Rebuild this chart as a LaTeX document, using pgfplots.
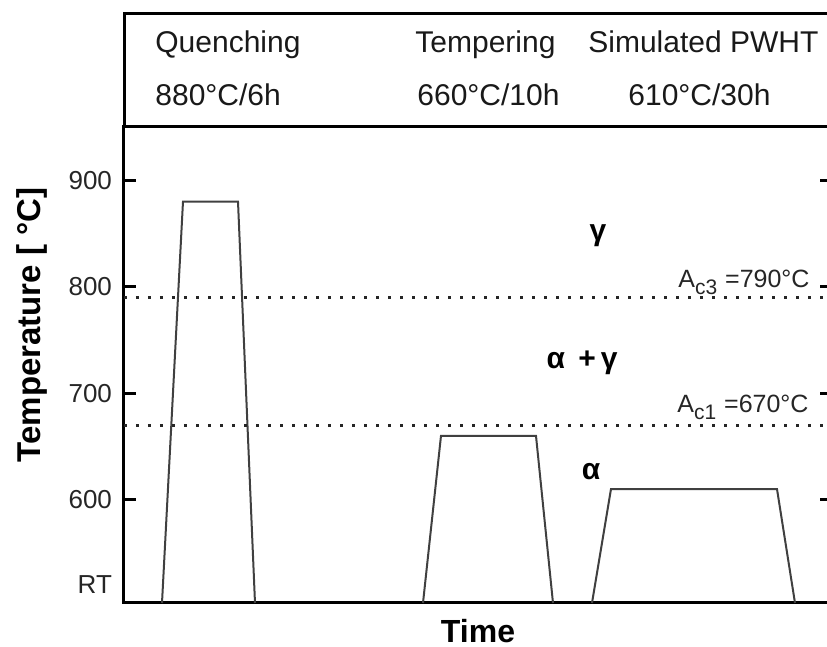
\documentclass[border=0pt]{standalone}
\usepackage{fontspec}
\setmainfont{Liberation Sans}
\usepackage{pgfplots}
\pgfplotsset{compat=1.18}
\begin{document}
\begin{tikzpicture}
\useasboundingbox (0pt,0pt) rectangle (413.5pt,323.5pt);
\clip (0pt,0pt) rectangle (413.5pt,323.5pt);
\begin{axis}[
  at={(62pt,22pt)}, anchor=south west,
  scale only axis, width=354pt, height=238pt,
  xmin=0, xmax=708, ymin=503, ymax=950,
  xtick=\empty,
  ytick={600,700,800,900},
  tick pos=both, yticklabel pos=left,
  tick align=inside,
  major tick length=6pt,
  extra y ticks={520}, extra y tick labels={RT},
  extra y tick style={major tick length=0pt},
  axis line style={line width=1.5pt},
  every tick/.style={line width=1.5pt, black},
  /pgf/number format/assume math mode=true,
  /pgf/number format/1000 sep={},
  yticklabel style={font=\fontsize{13}{15}\selectfont, text=black!85, xshift=-2.5pt},
  clip=false,
]
\addplot[black!75, line width=1pt] coordinates {(38,503) (59,880) (114,880) (131,503)};
\addplot[black!75, line width=1pt] coordinates {(299,503) (317,660) (412,660) (429,503)};
\addplot[black!75, line width=1pt] coordinates {(468,503) (487,610) (653,610) (671,503)};
\addplot[black!85, line width=1.4pt, dash pattern=on 1.5pt off 4.5pt] coordinates {(0,790) (708,790)};
\addplot[black!85, line width=1.4pt, dash pattern=on 1.5pt off 4.5pt] coordinates {(0,670) (708,670)};
\end{axis}
\draw[line width=1.5pt] (420pt,316.5pt) -- (62pt,316.5pt) -- (62pt,260pt);
\begin{scope}[every node/.style={font=\fontsize{15}{17}\selectfont, text=black!90, inner sep=0pt}]
\node[anchor=base west] at (77.5pt,297pt) {Quenching};
\node[anchor=base west] at (77.5pt,270.5pt) {880°C/6h};
\node[anchor=base west] at (207.5pt,297pt) {Tempering};
\node[anchor=base west] at (208.5pt,270.5pt) {660°C/10h};
\node[anchor=base west] at (294pt,297pt) {Simulated PWHT};
\node[anchor=base west] at (314pt,270.5pt) {610°C/30h};
\end{scope}
\begin{scope}[every node/.style={font=\fontsize{12.5}{15}\selectfont, text=black!85, inner sep=0pt}]
\node[anchor=base west] at (339pt,179.5pt) {A\textsubscript{\fontsize{10.5}{12}\selectfont c3} =790°C};
\node[anchor=base west] at (338.5pt,117pt) {A\textsubscript{\fontsize{10.5}{12}\selectfont c1} =670°C};
\end{scope}
\begin{scope}[every node/.style={font=\bfseries\fontsize{15}{17}\selectfont, inner sep=0pt}]
\node at (299pt,205.5pt) {γ};
\node at (291pt,142pt) {α\, +\,γ};
\node at (295.5pt,87.5pt) {α};
\end{scope}
\node[rotate=90, font=\bfseries\fontsize{16.5}{19}\selectfont] at (16pt,161pt) {Temperature [ °C]};
\node[font=\bfseries\fontsize{16}{19}\selectfont] at (239pt,8pt) {Time};
\end{tikzpicture}
\end{document}
